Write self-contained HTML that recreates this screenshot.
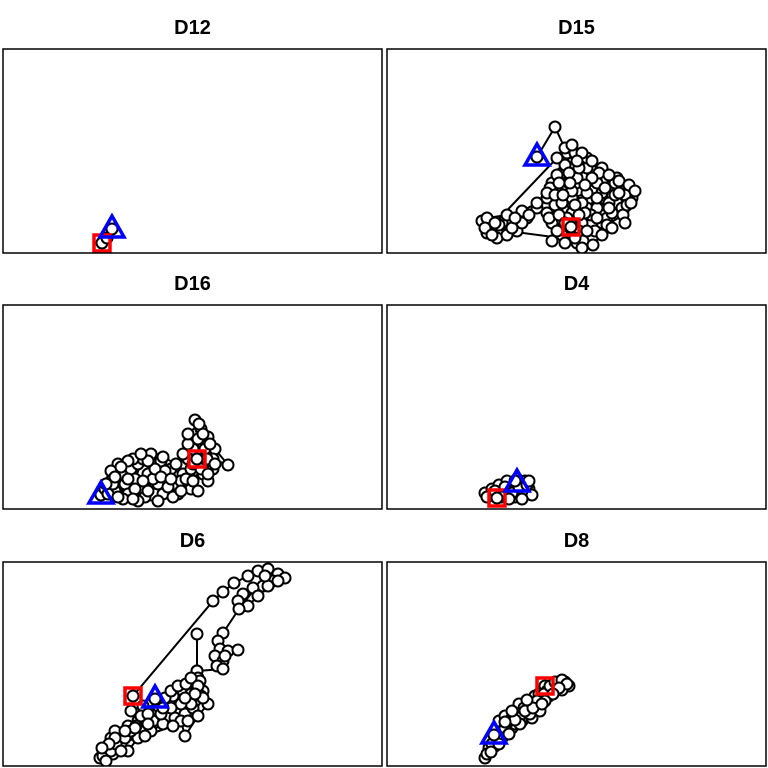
<!DOCTYPE html>
<html><head><meta charset="utf-8"><style>
html,body{margin:0;padding:0;background:#fff;}
svg{display:block;}
text{font-family:"Liberation Sans",Arial,sans-serif;font-weight:bold;font-size:20px;}
</style></head><body>
<svg id="chart" width="768" height="768" viewBox="0 0 768 768"></svg>
<script>
// data arrays (x: 0..379 domain, y: 0..204 domain per panel)
const panelNames = ["D12","D15","D16","D4","D6","D8"];
const d12 = [[99,10],[104,15],[109,24]];
const d15 = [[150,96],[168,126],[180,100],[185,90],[175,80],[190,75],[200,85],[210,70],[225,68],[240,65],[245,60],[230,50],[215,55],[200,60],[185,55],[170,45],[160,40],[165,30],[180,25],[195,20],[205,30],[220,35],[235,45],[245,55],[230,75],[215,85],[200,95],[188,100],[178,88],[165,70],[160,55],[150,45],[140,35],[130,30],[120,28],[105,25],[95,32],[100,20],[110,15],[120,18],[130,22],[115,30],[100,35],[120,38],[135,42],[150,50],[163,65],[172,60],[185,40],[195,30],[205,15],[190,10],[175,18],[185,28],[200,45],[215,60],[228,70],[238,58],[225,40],[210,45],[195,50],[182,70],[170,78],[160,60],[168,48],[180,35],[192,22],[204,38],[222,50],[236,38],[220,28],[208,22],[196,12],[184,26]];
const d15b = [[98,25],[105,18],[112,28],[125,25],[135,30],[142,38],[128,35],[108,30],[170,95],[178,105],[185,108],[195,100],[205,92],[212,80],[222,78],[232,72],[242,68],[248,62],[240,48],[228,58],[218,65],[205,75],[192,85],[182,80],[172,70],[168,58],[175,50],[188,48],[198,40],[210,35],[225,25],[215,18],[200,22],[188,15],[178,10],[170,22],[162,35],[172,38],[185,62],[198,68],[210,55],[222,45],[232,60],[244,50],[238,30],[190,92],[183,70],[176,58],[165,12],[178,30],[192,38],[206,8],[195,5]];
const d16 = [[98,14],[102,20],[108,28],[112,18],[118,35],[122,25],[128,40],[135,45],[140,50],[132,30],[125,15],[138,20],[145,35],[150,45],[142,12],[155,25],[160,15],[165,30],[172,22],[180,35],[175,15],[168,40],[158,48],[148,55],[130,50],[115,45],[108,38],[120,10],[135,8],[150,30],[162,38],[178,28],[188,40],[195,55],[200,65],[205,72],[198,80],[192,89],[195,70],[190,60],[185,50],[193,45],[200,35],[205,28],[210,40],[208,55],[212,60],[225,44],[210,50],[200,48],[188,20],[195,18],[185,65],[202,60],[194,50]];
const d16b = [[105,15],[110,25],[115,12],[125,30],[132,20],[140,28],[145,18],[152,40],[158,32],[165,22],[170,12],[178,18],[183,30],[190,28],[198,40],[204,50],[207,65],[200,75],[196,85],[185,75],[180,55],[173,45],[160,52],[145,48],[138,55],[125,48],[118,42],[112,32],[103,25],[130,10],[155,8],[168,30],[212,45],[205,35],[190,45]];
const d4 = [[130,26],[98,16],[105,20],[115,18],[120,15],[112,24],[120,28],[130,30],[138,28],[142,20],[145,14],[135,18],[128,12],[135,10],[125,22],[110,11]];
const d4b = [[100,12],[108,18],[118,22],[125,16],[132,22],[140,24],[142,28],[128,28],[115,12],[122,10]];
const d6 = [[130,70],[210,165],[220,174],[231,183],[245,190],[255,195],[265,197],[275,192],[282,188],[270,185],[260,180],[250,178],[240,172],[235,165],[245,160],[255,170],[265,180],[275,185],[262,190],[236,157],[220,133],[215,125],[217,117],[212,110],[220,105],[225,115],[235,116],[222,110],[214,100],[220,97],[194,95],[194,132],[194,95],[97,8],[100,15],[105,20],[110,12],[115,25],[120,30],[108,28],[102,18],[112,35],[125,40],[135,45],[128,55],[140,60],[150,55],[160,62],[170,70],[180,75],[190,80],[195,88],[200,75],[192,65],[185,60],[175,55],[165,50],[150,45],[140,38],[130,32],[118,22],[125,15],[135,28],[148,35],[160,42],[172,48],[182,52],[190,58],[198,70],[205,62],[195,50],[182,30],[178,45],[188,72],[197,85],[152,67]];
const d6b = [[100,10],[103,5],[108,15],[113,22],[118,15],[122,28],[128,35],[133,40],[138,50],[145,52],[155,60],[162,68],[168,75],[175,80],[183,82],[188,88],[195,80],[200,68],[188,62],[178,62],[168,58],[158,52],[145,42],[132,38],[122,35],[112,28],[106,22],[99,18],[142,30],[170,40],[185,45],[192,72],[182,68],[160,58]];
const d8 = [[158,80],[98,8],[102,18],[110,25],[115,35],[120,40],[112,45],[118,50],[125,48],[130,55],[135,52],[140,60],[132,62],[145,65],[150,58],[148,70],[155,68],[160,75],[165,78],[170,82],[178,84],[182,80],[175,76],[162,70],[152,62],[142,55],[135,45],[125,38],[115,28],[108,20],[120,33],[128,42],[138,50],[145,48],[153,55],[107,31]];
const d8b = [[100,12],[105,22],[112,30],[118,38],[122,45],[127,52],[132,48],[137,58],[142,62],[147,62],[152,72],[157,72],[163,80],[168,84],[175,86],[180,82],[172,78],[166,72],[158,65],[150,65],[143,52],[133,42],[122,32],[112,22],[104,14],[128,46],[138,55],[146,58],[155,62],[118,44],[125,55],[140,66]];
const mainData = [d12,d15,d16,d4,d6,d8];
const extraData = [[],d15b,d16b,d4b,d6b,d8b];
// start marker = red square, end marker = blue triangle (-1 = last point)
const startIdx = [0,-1,-1,-1,0,0];
const endIdx = [-1,0,0,0,-1,-1];

const NS="http://www.w3.org/2000/svg";
const svg=document.getElementById('chart');
const boxes=[[3,49],[387,49],[3,305],[387,305],[3,562],[387,562]];
const W=379,H=204;
function mk(tag,attrs,parent){const e=document.createElementNS(NS,tag);for(const k in attrs)e.setAttribute(k,attrs[k]);parent.appendChild(e);return e;}
function pick(arr,i){return i<0?arr[arr.length-1]:arr[i];}
panelNames.forEach((name,i)=>{
  const [bx,by]=boxes[i];
  const g=mk('g',{},svg);
  
  
  const sx=v=>bx+v/379*W, sy=v=>by+H-v/204*H;
  const t=mk('text',{x:bx+W/2,y:by-15,'text-anchor':'middle'},g);
  t.textContent=name;
  
  
  const clip=mk('clipPath',{id:'c'+i},g);
  mk('rect',{x:bx,y:by,width:W,height:H},clip);
  const pg=mk('g',{'clip-path':'url(#c'+i+')'},g);
  const base=mainData[i];
  const s=pick(base,startIdx[i]), e=pick(base,endIdx[i]);
  const data=[...base.slice(0,-1),...extraData[i],base[base.length-1]];
  const pl=mk('polyline',{points:data.map(p=>sx(p[0])+','+sy(p[1])).join(' '),fill:'none',stroke:'#000','stroke-width':2},pg);
  
  
  data.forEach(p=>{
    const c=mk('circle',{cx:sx(p[0]),cy:sy(p[1]),r:5.5,fill:'#fff',stroke:'#000','stroke-width':2},pg);
    
    
  });
  const sq=mk('rect',{x:sx(s[0])-8,y:sy(s[1])-8,width:16,height:16,fill:'none',stroke:'#f00','stroke-width':3.5},pg);
  
  
  const ex=sx(e[0]),ey=sy(e[1]);
  const tr=mk('polygon',{points:`${ex},${ey-13} ${ex-12},${ey+8} ${ex+12},${ey+8}`,fill:'none',stroke:'#00f','stroke-width':3.5},pg);
  
  
  const fr=mk('rect',{x:bx,y:by,width:W,height:H,fill:'none',stroke:'#000','stroke-width':1.5},g);
  
  
});
</script>
</body></html>
